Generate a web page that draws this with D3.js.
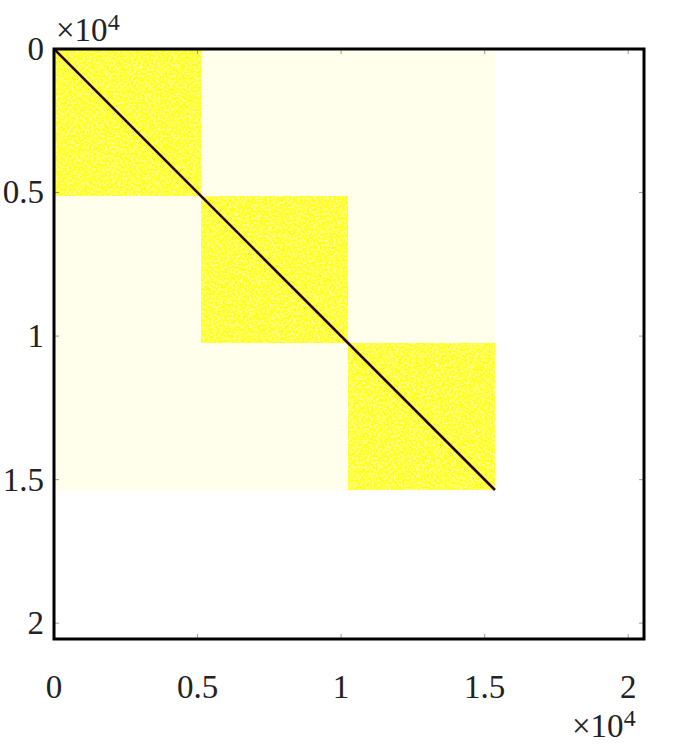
<!DOCTYPE html>
<html>
<head>
<meta charset="utf-8">
<script src="https://cdn.jsdelivr.net/npm/d3@7"></script>
<style>
  body { margin: 0; background: #fff; }
</style>
</head>
<body>
<div id="chart"></div>
<script>
// block structure of the matrix (node indices)
var blockStarts = [0, 5120, 10240];
var blockSizes = [5120, 5120, 5120];
// mean value of each block pair (row block, col block)
var blockValues = [
  [0.28, 0.025, 0.025],
  [0.025, 0.28, 0.025],
  [0.025, 0.025, 0.28]
];
var diagPoints = [0, 15360];
var diagValue = 0.95;
var axisMax = 20550;
var tickValues = [0, 5000, 10000, 15000, 20000];
var tickLabels = ["0", "0.5", "1", "1.5", "2"];

var margin = { top: 49, left: 54 };
var size = 590;
var width = 677, height = 751;
var serif = "'Liberation Serif', 'Times New Roman', Times, serif";

var x = d3.scaleLinear().domain([0, axisMax]).range([0, size]);
var y = d3.scaleLinear().domain([0, axisMax]).range([0, size]);

// reversed "hot" colormap: white -> yellow -> red -> black
var color = d3.scaleLinear()
  .domain([0, 0.33, 0.66, 1])
  .range(["#ffffff", "#ffff00", "#ff0000", "#000000"]);

var svg = d3.select("#chart").append("svg")
  .attr("width", width)
  .attr("height", height)
  .style("font-family", serif);

var defs = svg.append("defs");
var f = defs.append("filter").attr("id", "speckle")
  .attr("x", 0).attr("y", 0).attr("width", 1).attr("height", 1);
f.append("feTurbulence").attr("type", "fractalNoise")
  .attr("baseFrequency", 0.45).attr("numOctaves", 2).attr("seed", 7).attr("result", "n");
f.append("feColorMatrix").attr("in", "n").attr("type", "matrix")
  .attr("values", "0 0 0 0 1  0 0 0 0 1  0 0 0 0 1  1.1 0 0 0 -0.52")
  .attr("result", "w");
f.append("feComposite").attr("in", "w").attr("in2", "SourceGraphic")
  .attr("operator", "in").attr("result", "wm");
var fm = f.append("feMerge");
fm.append("feMergeNode").attr("in", "SourceGraphic");
fm.append("feMergeNode").attr("in", "wm");

defs.append("clipPath").attr("id", "plot-clip")
  .append("rect").attr("width", size).attr("height", size);

var g = svg.append("g")
  .attr("transform", "translate(" + margin.left + "," + margin.top + ")");

var cells = [];
blockStarts.forEach(function (r0, i) {
  blockStarts.forEach(function (c0, j) {
    cells.push({ r: r0, c: c0, h: blockSizes[i], w: blockSizes[j], v: blockValues[i][j] });
  });
});

var plot = g.append("g").attr("clip-path", "url(#plot-clip)");

plot.selectAll("rect.cell")
  .data(cells)
  .join("rect")
  .attr("class", "cell")
  .attr("x", d => x(d.c))
  .attr("y", d => y(d.r))
  .attr("width", d => x(d.c + d.w) - x(d.c))
  .attr("height", d => y(d.r + d.h) - y(d.r))
  .attr("fill", d => color(d.v))
  .attr("filter", d => d.v > 0.1 ? "url(#speckle)" : null);

plot.append("path")
  .datum(diagPoints)
  .attr("fill", "none")
  .attr("stroke", color(diagValue))
  .attr("stroke-width", 2.6)
  .attr("d", d3.line().x(d => x(d)).y(d => y(d)));

// inward ticks on all sides
var tickLen = 5;
tickValues.forEach(function (t) {
  g.append("line").attr("x1", x(t)).attr("x2", x(t)).attr("y1", size).attr("y2", size - tickLen).attr("stroke", "#555").attr("stroke-width", 0.6);
  g.append("line").attr("x1", x(t)).attr("x2", x(t)).attr("y1", 0).attr("y2", tickLen).attr("stroke", "#555").attr("stroke-width", 0.6);
  g.append("line").attr("y1", y(t)).attr("y2", y(t)).attr("x1", 0).attr("x2", tickLen).attr("stroke", "#555").attr("stroke-width", 0.6);
  g.append("line").attr("y1", y(t)).attr("y2", y(t)).attr("x1", size).attr("x2", size - tickLen).attr("stroke", "#555").attr("stroke-width", 0.6);
});

// box
g.append("rect")
  .attr("width", size).attr("height", size)
  .attr("fill", "none").attr("stroke", "#000").attr("stroke-width", 3);

// tick labels
g.selectAll("text.xl")
  .data(tickValues)
  .join("text")
  .attr("class", "xl")
  .attr("x", d => x(d))
  .attr("y", size + 59)
  .attr("text-anchor", "middle")
  .attr("font-family", serif)
  .attr("font-size", 33)
  .attr("fill", "#222")
  .text((d, i) => tickLabels[i]);

g.selectAll("text.yl")
  .data(tickValues)
  .join("text")
  .attr("class", "yl")
  .attr("x", -10)
  .attr("y", d => y(d))
  .attr("dy", "0.33em")
  .attr("text-anchor", "end")
  .attr("font-family", serif)
  .attr("font-size", 33)
  .attr("fill", "#222")
  .text((d, i) => tickLabels[i]);

// exponent labels
function expLabel(px, py) {
  var t = svg.append("text").attr("x", px).attr("y", py)
    .attr("font-family", serif).attr("font-size", 33).attr("fill", "#222");
  t.append("tspan").text("\u00d710");
  t.append("tspan").attr("dy", -11).attr("font-size", 24).text("4");
}
expLabel(56, 41);
expLabel(572, 737);
</script>
</body>
</html>
